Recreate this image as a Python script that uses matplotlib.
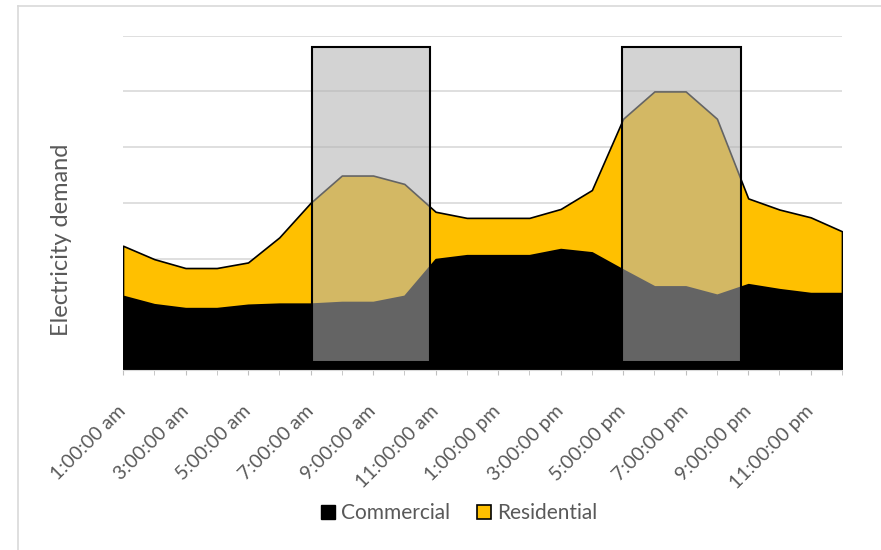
import matplotlib.pyplot as plt
from matplotlib.patches import Rectangle, Patch
from matplotlib.lines import Line2D

plt.rcParams['font.family'] = ['Lato', 'DejaVu Sans']

# hour of day (1 = 1:00 am ... 24 = midnight)
hours = list(range(1, 25))
commercial = [1.33, 1.18, 1.11, 1.11, 1.17, 1.19, 1.19, 1.22, 1.22, 1.33, 1.99, 2.06,
              2.06, 2.06, 2.17, 2.11, 1.80, 1.50, 1.50, 1.35, 1.54, 1.45, 1.38, 1.38]
residential = [0.90, 0.81, 0.72, 0.72, 0.76, 1.19, 1.81, 2.27, 2.27, 2.01, 0.85, 0.67,
               0.67, 0.67, 0.72, 1.12, 2.71, 3.50, 3.50, 3.16, 1.54, 1.43, 1.36, 1.11]
tick_labels = ['1:00:00 am', '3:00:00 am', '5:00:00 am', '7:00:00 am', '9:00:00 am',
               '11:00:00 am', '1:00:00 pm', '3:00:00 pm', '5:00:00 pm', '7:00:00 pm',
               '9:00:00 pm', '11:00:00 pm']
label_hours = hours[::2]
# peak windows (start hour, end hour)
peaks = [(7.04, 10.83), (16.96, 20.76)]

fig = plt.figure(figsize=(8.81, 5.5), dpi=100)
ax = fig.add_axes([0.1396, 0.3273, 0.8161, 0.6078])

ax.stackplot(hours, commercial, residential, colors=['#000000', '#FFC000'],
             edgecolor='black', linewidth=1.2, zorder=2)

for x0, x1 in peaks:
    ax.add_patch(Rectangle((x0, 0.15), x1 - x0, 5.65, facecolor='#B2B2B2', alpha=0.57,
                           edgecolor='none', zorder=3))
    ax.add_patch(Rectangle((x0, 0.15), x1 - x0, 5.65, facecolor='none',
                           edgecolor='black', linewidth=1.5, zorder=4))

ax.set_xlim(1, 24)
ax.set_ylim(0, 6)
ax.set_yticks(range(1, 7))
ax.set_yticklabels([])
ax.tick_params(axis='y', length=0)
ax.yaxis.grid(True, color='#D9D9D9', linewidth=1.2, zorder=0)
ax.set_axisbelow(True)

ax.set_xticks(hours, minor=True)
ax.set_xticks(label_hours)
ax.set_xticklabels(tick_labels, rotation=45, ha='right', va='center',
                   rotation_mode='anchor', fontsize=14, color='#595959')
ax.tick_params(axis='x', which='both', length=3.6, color='#BFBFBF', pad=24)

for s in ['top', 'right', 'left']:
    ax.spines[s].set_visible(False)
ax.spines['bottom'].set_color('#D9D9D9')
ax.spines['bottom'].set_zorder(5)

fig.text(62 / 881, 1 - 240 / 550, 'Electricity demand', rotation=90, fontsize=17,
         color='#595959', ha='center', va='center')

handles = [Patch(facecolor='#000000', edgecolor='#000000'),
           Patch(facecolor='#FFC000', edgecolor='#000000', linewidth=1.2)]
fig.legend(handles, ['Commercial', 'Residential'], loc='center', ncol=2,
           bbox_to_anchor=(459 / 881, 1 - 513 / 550), frameon=False, fontsize=15,
           labelcolor='#595959', handlelength=0.67, handleheight=0.67,
           handletextpad=0.3, columnspacing=1.3)

# chart border
fig.add_artist(Line2D([0.0199, 1.0], [0.989, 0.989], color='#D9D9D9', linewidth=1.2))
fig.add_artist(Line2D([0.0199, 0.0199], [0.0, 0.989], color='#D9D9D9', linewidth=1.2))

fig.savefig('out.png', dpi=100)
